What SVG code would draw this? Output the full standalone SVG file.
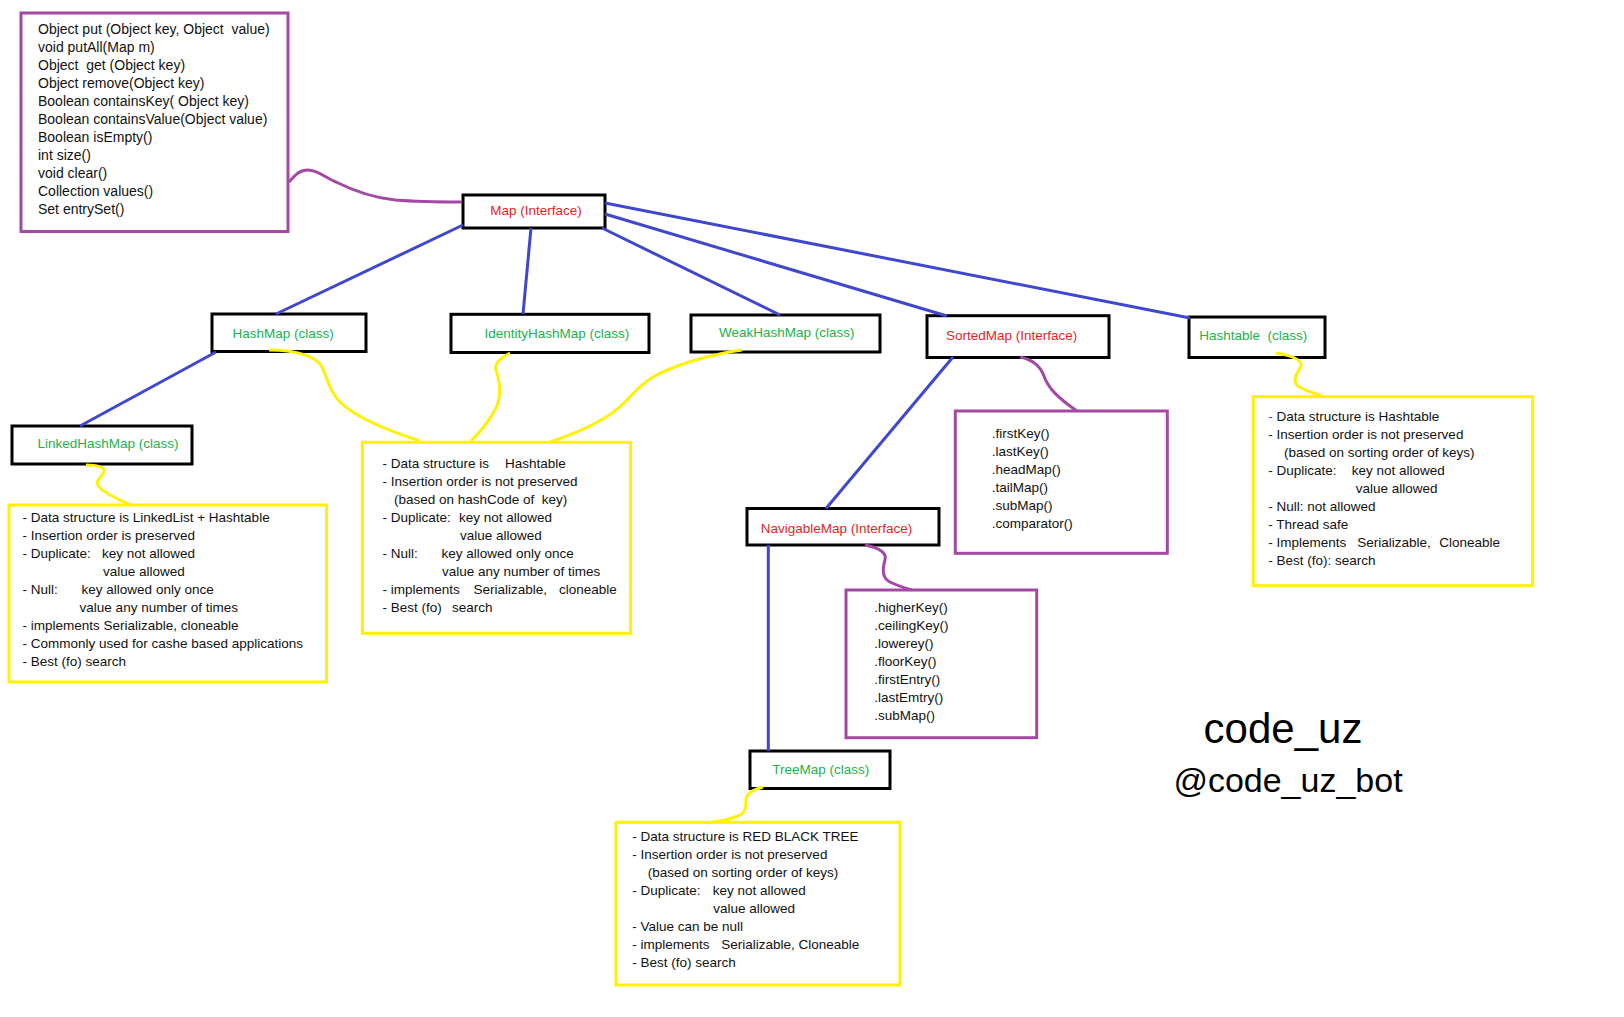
<svg xmlns="http://www.w3.org/2000/svg" width="1624" height="1017" viewBox="0 0 1624 1017">
<style>
text{font-family:"Liberation Sans",Arial,sans-serif;font-size:13.5px;fill:#111;white-space:pre}
.m{font-size:14px}
.node{fill:#fff;stroke:#000;stroke-width:3}
.pbox{fill:#fff;stroke:#A349A4;stroke-width:3}
.ybox{fill:#fff;stroke:#FFF200;stroke-width:3}
.red{fill:#ED1C24}
.green{fill:#22B14C}
.blue{fill:none;stroke:#3F48CC;stroke-width:3}
.purple{fill:none;stroke:#A349A4;stroke-width:3}
.yellow{fill:none;stroke:#FFF200;stroke-width:3}
.big{font-size:42px;fill:#000}
.mid{font-size:34px;fill:#000}
</style>
<rect width="1624" height="1017" fill="#fff"/>
<g id="map-methods">
<rect class="pbox" x="21" y="13" width="267" height="218.5"/>
<text class="m" x="38" y="34">Object put (Object key, Object  value)</text>
<text class="m" x="38" y="52">void putAll(Map m)</text>
<text class="m" x="38" y="70">Object  get (Object key)</text>
<text class="m" x="38" y="88">Object remove(Object key)</text>
<text class="m" x="38" y="106">Boolean containsKey( Object key)</text>
<text class="m" x="38" y="124">Boolean containsValue(Object value)</text>
<text class="m" x="38" y="142">Boolean isEmpty()</text>
<text class="m" x="38" y="160">int size()</text>
<text class="m" x="38" y="178">void clear()</text>
<text class="m" x="38" y="196">Collection values()</text>
<text class="m" x="38" y="214">Set entrySet()</text>
</g>
<g id="map">
<rect class="node" x="463" y="195" width="142" height="33"/>
<text class="red" x="536" y="215" text-anchor="middle">Map (Interface)</text>
</g>
<g id="hashmap">
<rect class="node" x="212" y="314" width="154" height="37.5"/>
<text class="green" x="232.5" y="338">HashMap (class)</text>
</g>
<g id="identityhashmap">
<rect class="node" x="451" y="314.3" width="198" height="38.2"/>
<text class="green" x="484.4" y="337.5">IdentityHashMap (class)</text>
</g>
<g id="weakhashmap">
<rect class="node" x="691" y="315" width="189" height="37"/>
<text class="green" x="719" y="337">WeakHashMap (class)</text>
</g>
<g id="sortedmap">
<rect class="node" x="927" y="315.7" width="182" height="41.8"/>
<text class="red" x="946" y="339.5">SortedMap (Interface)</text>
</g>
<g id="hashtable">
<rect class="node" x="1189" y="317" width="136" height="40.5"/>
<text class="green" x="1199.3" y="339.5">Hashtable  (class)</text>
</g>
<g id="linkedhashmap">
<rect class="node" x="12" y="426" width="180" height="38"/>
<text class="green" x="37.5" y="448">LinkedHashMap (class)</text>
</g>
<g id="navigablemap">
<rect class="node" x="747" y="508.5" width="192" height="36.5"/>
<text class="red" x="760.7" y="533">NavigableMap (Interface)</text>
</g>
<g id="treemap">
<rect class="node" x="750" y="751" width="140" height="37.5"/>
<text class="green" x="772.3" y="773.5">TreeMap (class)</text>
</g>
<g id="linkedhashmap-notes">
<rect class="ybox" x="9" y="505" width="317.5" height="177"/>
<text x="22.4" y="522.2">- Data structure is LinkedList + Hashtable</text>
<text x="22.4" y="540.2">- Insertion order is preserved</text>
<text x="22.4" y="558.2">- Duplicate:<tspan x="102">key not allowed</tspan></text>
<text x="102.9" y="576.2">value allowed</text>
<text x="22.4" y="594.2">- Null:<tspan x="81.6">key allowed only once</tspan></text>
<text x="79.6" y="612.2">value any number of times</text>
<text x="22.4" y="630.2">- implements Serializable, cloneable</text>
<text x="22.4" y="648.2">- Commonly used for cashe based applications</text>
<text x="22.4" y="666.2">- Best (fo) search</text>
</g>
<g id="hashmap-notes">
<rect class="ybox" x="362.4" y="442.3" width="268.2" height="191"/>
<text x="382.4" y="467.8">- Data structure is<tspan x="505">Hashtable</tspan></text>
<text x="382.4" y="485.8">- Insertion order is not preserved</text>
<text x="394" y="503.8">(based on hashCode of  key)</text>
<text x="382.4" y="521.8">- Duplicate:<tspan x="459">key not allowed</tspan></text>
<text x="460" y="539.8">value allowed</text>
<text x="382.4" y="557.8">- Null:<tspan x="441.6">key allowed only once</tspan></text>
<text x="442" y="575.8">value any number of times</text>
<text x="382.4" y="593.8">- implements<tspan x="473.5">Serializable,</tspan><tspan x="559">cloneable</tspan></text>
<text x="382.4" y="611.8">- Best (fo)<tspan x="452">search</tspan></text>
</g>
<g id="sortedmap-methods">
<rect class="pbox" x="955.3" y="411" width="212" height="142.3"/>
<text x="991.7" y="437.8">.firstKey()</text>
<text x="991.7" y="455.8">.lastKey()</text>
<text x="991.7" y="473.8">.headMap()</text>
<text x="991.7" y="491.8">.tailMap()</text>
<text x="991.7" y="509.8">.subMap()</text>
<text x="991.7" y="527.8">.comparator()</text>
</g>
<g id="navigablemap-methods">
<rect class="pbox" x="846" y="590" width="190.7" height="147.7"/>
<text x="874.3" y="611.8">.higherKey()</text>
<text x="874.3" y="629.8">.ceilingKey()</text>
<text x="874.3" y="647.8">.lowerey()</text>
<text x="874.3" y="665.8">.floorKey()</text>
<text x="874.3" y="683.8">.firstEntry()</text>
<text x="874.3" y="701.8">.lastEmtry()</text>
<text x="874.3" y="719.8">.subMap()</text>
</g>
<g id="hashtable-notes">
<rect class="ybox" x="1253.3" y="396.7" width="279.4" height="189"/>
<text x="1268.3" y="421.2"><tspan fill="#3F48CC">-</tspan> Data structure is Hashtable</text>
<text x="1268.3" y="439.2">- Insertion order is not preserved</text>
<text x="1284" y="457.2">(based on sorting order of keys)</text>
<text x="1268.3" y="475.2">- Duplicate:<tspan x="1351.7">key not allowed</tspan></text>
<text x="1355.7" y="493.2">value allowed</text>
<text x="1268.3" y="511.2">- Null: not allowed</text>
<text x="1268.3" y="529.2">- Thread safe</text>
<text x="1268.3" y="547.2">- Implements<tspan x="1357.3">Serializable,</tspan><tspan x="1439.3">Cloneable</tspan></text>
<text x="1268.3" y="565.2">- Best (fo): search</text>
</g>
<g id="treemap-notes">
<rect class="ybox" x="616" y="822.3" width="284" height="162.7"/>
<text x="632.3" y="841.2">- Data structure is RED BLACK TREE</text>
<text x="632.3" y="859.2">- Insertion order is not preserved</text>
<text x="647.7" y="877.2">(based on sorting order of keys)</text>
<text x="632.3" y="895.2">- Duplicate:<tspan x="712.7">key not allowed</tspan></text>
<text x="713.3" y="913.2">value allowed</text>
<text x="632.3" y="931.2">- Value can be null</text>
<text x="632.3" y="949.2">- implements<tspan x="721.3">Serializable, Cloneable</tspan></text>
<text x="632.3" y="967.2">- Best (fo) search</text>
</g>
<g id="watermark">
<text class="big" x="1283" y="743" text-anchor="middle">code_uz</text>
<text class="mid" x="1288" y="792" text-anchor="middle">@code_uz_bot</text>
</g>
<g id="connectors">
<path class="purple" d="M289,182 C296,174 300,170 308,170 C318,170 326,178 336,182 C356,192 376,198 395,200 C420,202 440,202 462,202"/>
<line class="blue" x1="463" y1="225" x2="276" y2="314"/>
<line class="blue" x1="531" y1="228" x2="523" y2="314"/>
<line class="blue" x1="602" y1="228" x2="780" y2="315"/>
<line class="blue" x1="605" y1="214" x2="947" y2="316"/>
<line class="blue" x1="605" y1="203" x2="1190" y2="318"/>
<line class="blue" x1="216" y1="352" x2="80" y2="426"/>
<line class="blue" x1="953" y1="357" x2="826" y2="508.5"/>
<line class="blue" x1="768.3" y1="545" x2="768.3" y2="751"/>
<path class="yellow" d="M86,465 C96,465 106,467 104,472 C102,477 95,480 98,485 C100,490 110,496 131,505"/>
<path class="yellow" d="M269,350 C300,350 318,358 322,367 C328,380 330,392 340,402 C352,414 380,428 420,441"/>
<path class="yellow" d="M510,353 C500,358 494,363 496,370 C500,382 502,395 496,408 C490,420 480,432 471,441"/>
<path class="yellow" d="M742,350 C720,353 680,362 653,377 C640,385 635,392 625,402 C610,418 580,432 550,442"/>
<path class="yellow" d="M1276,353 C1290,355 1303,360 1301,366 C1298,372 1293,378 1296,384 C1300,390 1312,392 1322,396"/>
<path class="yellow" d="M763,787 C752,790 746,794 746,800 C746,806 746,813 738,816 C728,820 716,822 707,823"/>
<path class="purple" d="M1020,357 C1035,360 1041,368 1044,376 C1048,388 1058,398 1077,411"/>
<path class="purple" d="M865,545 C880,548 887,553 885,560 C882,570 882,578 890,582 C898,586 905,588 912,590"/>
</g>
</svg>
